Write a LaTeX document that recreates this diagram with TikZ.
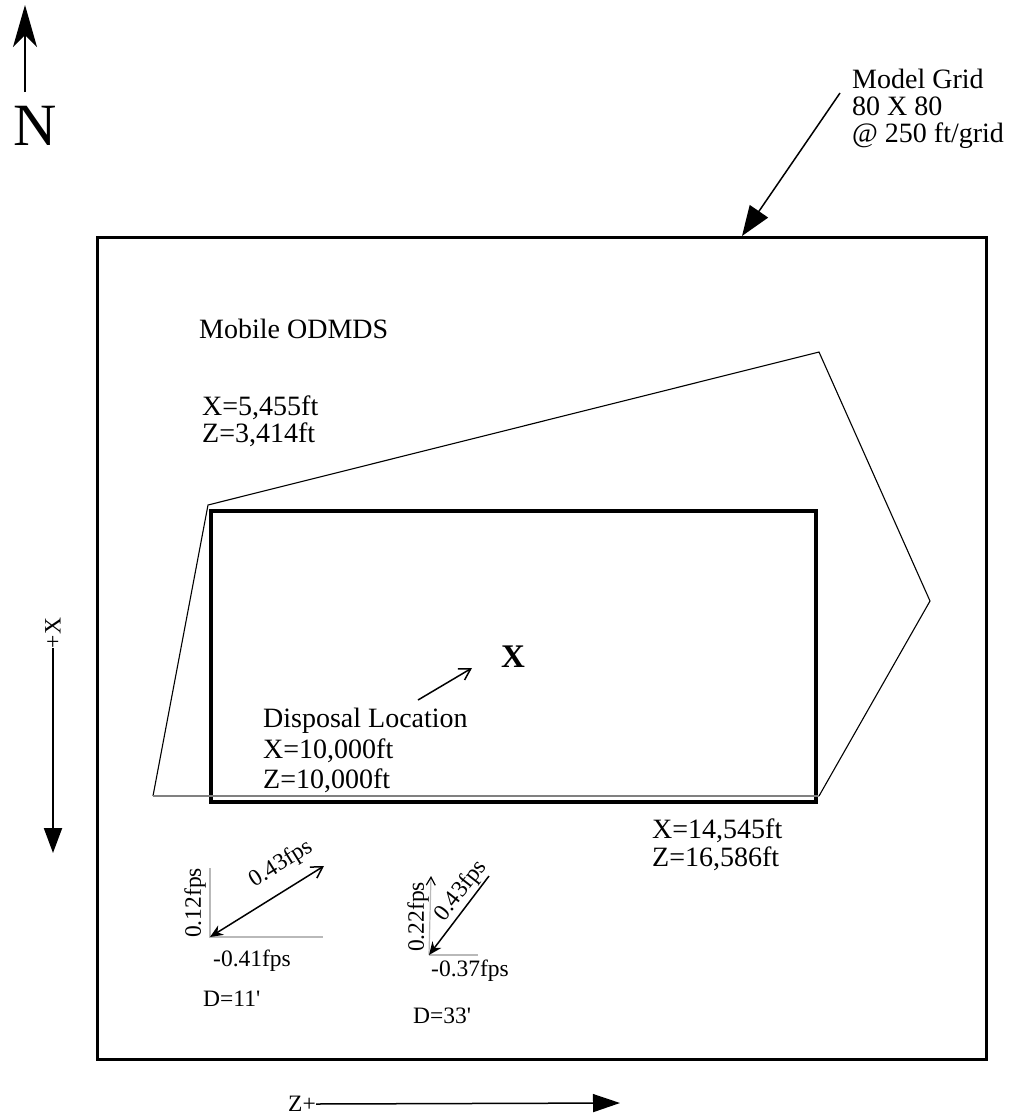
\documentclass[tikz,border=0pt]{standalone}
\usepackage{fontspec}
\setmainfont{Liberation Serif}
\usetikzlibrary{arrows.meta}

\begin{document}
\begin{tikzpicture}[x=1pt,y=-1pt,
	lbl/.style={font=\fontsize{28}{31}\selectfont, inner sep=0pt, anchor=base west},
	vel/.style={font=\fontsize{23.5}{26}\selectfont, inner sep=0pt},
	comp/.style={gray!55, line width=1.2pt},
	heavy/.style={line width=3pt}]
	\useasboundingbox (0,0) rectangle (1011,1117);
	% grid and site outlines
	\draw[heavy] (97,237) rectangle (986,1059);
	\draw[line width=3.5pt] (211,511) rectangle (816,802);
	\draw[line width=1.1pt] (153,796) -- (208,505) -- (819,352) -- (930,601) -- (819,796);
	\draw[line width=1.1pt, gray] (819,796) -- (153,796);
	% north
	\node[font=\fontsize{60}{60}\selectfont, inner sep=0pt] (north) at (35,126) {N};
	\coordinate (n0) at (25,92);
	\coordinate (n1) at (25,5);
	\draw[line width=1.5pt, -{Stealth[length=42pt,width=24pt,inset=12pt]}] (n0) -- (n1);
	% axes
	\node[vel, rotate=90] (xaxis) at (53,633) {+X};
	\coordinate (x1) at (53,853);
	\draw[line width=2pt, -{Triangle[length=25pt,width=18pt]}] (xaxis.west) -- (x1);
	\node[vel, anchor=east] (zaxis) at (316,1104) {Z+};
	\coordinate (z1) at (620,1103);
	\draw[line width=1.5pt, -{Triangle[length=27pt,width=18pt]}] (zaxis.east) -- (z1);
	% grid label
	\node[lbl] (grid1) at (852,88) {Model Grid};
	\node[lbl] (grid2) at (852,115) {80 X 80};
	\node[lbl] (grid3) at (852,142) {@ 250 ft/grid};
	\coordinate (g0) at (840,93);
	\coordinate (g1) at (742,236);
	\draw[line width=1.5pt, -{Triangle[length=30pt,width=22pt]}] (g0) -- (g1);
	% site labels
	\node[lbl] (site) at (199,338) {Mobile ODMDS};
	\node[lbl] (nw1) at (202,415) {X=5,455ft};
	\node[lbl] (nw2) at (202,442) {Z=3,414ft};
	\node[lbl] (se1) at (652,838) {X=14,545ft};
	\node[lbl] (se2) at (652,866) {Z=16,586ft};
	\node[font=\fontsize{33}{33}\bfseries\selectfont, inner sep=0pt] (disp) at (513,657) {X};
	\node[lbl] (loc1) at (263,727) {Disposal Location};
	\node[lbl] (loc2) at (263,758) {X=10,000ft};
	\node[lbl] (loc3) at (263,788) {Z=10,000ft};
	\coordinate (d0) at (418,700);
	\coordinate (d1) at (472,668);
	\draw[line width=1.5pt, -{Straight Barb[length=11pt,width=13pt]}] (d0) -- (d1);
	% currents at D=11'
	\coordinate (o1) at (210,937);
	\coordinate (v1) at (210,868);
	\coordinate (h1) at (323,937);
	\coordinate (r1) at (324,866);
	\draw[comp] (v1) -- (o1) -- (h1);
	\draw[line width=1.5pt, {Stealth[length=13pt,width=11pt]}-{Straight Barb[length=11pt,width=13pt]}] (o1) -- (r1);
	\node[vel, rotate=90] (u1) at (195,903) {0.12fps};
	\node[vel, rotate=32] (m1) at (281,864) {0.43fps};
	\node[vel, anchor=base west] (w1) at (213,966) {-0.41fps};
	\node[vel, anchor=base west] (depth1) at (203,1006) {D=11\textquotesingle};
	% currents at D=33'
	\coordinate (o2) at (429,955);
	\coordinate (v2) at (431,876);
	\coordinate (h2) at (478,955);
	\coordinate (r2) at (489,876);
	\draw[comp] (o2) -- (h2);
	\draw[comp, -{Straight Barb[black,length=8pt,width=9pt]}] (o2) -- (v2);
	\draw[line width=1.5pt, -{Stealth[length=13pt,width=11pt]}] (r2) -- (o2);
	\node[vel, rotate=90] (u2) at (418,917) {0.22fps};
	\node[vel, rotate=52] (m2) at (461,891) {0.43fps};
	\node[vel, anchor=base west] (w2) at (431,976) {-0.37fps};
	\node[vel, anchor=base west] (depth2) at (413,1023) {D=33\textquotesingle};
\end{tikzpicture}
\end{document}
